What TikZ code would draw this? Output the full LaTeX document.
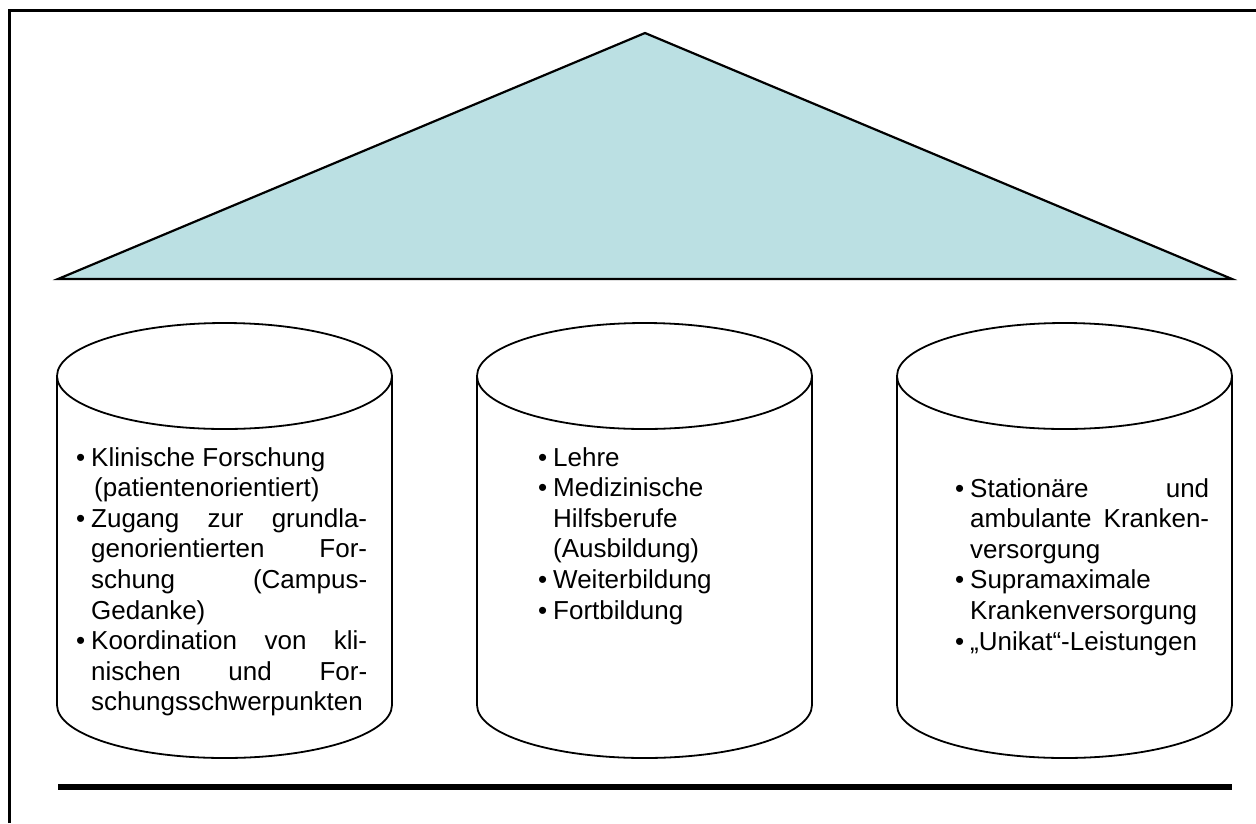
\documentclass[tikz,border=0pt]{standalone}
\usepackage{fontspec}
\setmainfont{Liberation Sans}
\definecolor{roof}{RGB}{187,224,227}
\tikzset{
  frameline/.style={line width=3pt},
  roofshape/.style={fill=roof, draw=black, line width=2.2pt},
  pillar/.style={draw=black, line width=1.8pt},
  groundline/.style={line width=6.5pt},
  pillartext/.style={anchor=base west, inner sep=0pt},
}
% justified text block whose first baseline is the node's base
\newcommand\pillarbody[2]{\vtop{\hsize=#1\relax
  \fontsize{26pt}{30.6pt}\selectfont
  \parindent=0pt \parskip=0pt \tolerance=10000 \hbadness=10000
  \hyphenpenalty=10000 \exhyphenpenalty=10000 #2}}
% one bulleted item, bullet hanging in the left margin
\newcommand\bitem{\par\leavevmode\llap{•\hspace{6pt}}}
\begin{document}
\begin{tikzpicture}[x=1pt,y=-1pt]
  \useasboundingbox (0,0) rectangle (1256,823);
  % frame
  \draw[frameline] (9,823) -- (9,10) -- (1256,10);
  % roof
  \coordinate (roofL) at (58,279);
  \coordinate (roofT) at (645,33);
  \coordinate (roofR) at (1232,279);
  \draw[roofshape] (roofL) -- (roofT) -- (roofR) -- cycle;
  % three pillars (cylinders)
  \foreach \x in {57,477,897} {
    \draw[pillar] (\x,376) -- (\x,705)
      arc[start angle=180, end angle=0, x radius=167.5, y radius=53]
      -- (\x+335,376);
    \draw[pillar] (\x+167.5,376) ellipse [x radius=167.5, y radius=53];
  }
  % pillar texts
  \node[pillartext] (research) at (91,466) {\pillarbody{276pt}{%
    \bitem Klinische Forschung\\\hspace*{3pt}(patientenorientiert)
    \bitem Zugang zur grundla-\linebreak genorientierten For-\linebreak schung (Campus-\linebreak Gedanke)
    \bitem Koordination von kli-\linebreak nischen und For-\linebreak schungsschwerpunkten}};
  \node[pillartext] (teaching) at (553,466) {\pillarbody{237pt}{%
    \bitem Lehre
    \bitem Medizinische\\Hilfsberufe\\(Ausbildung)
    \bitem Weiterbildung
    \bitem Fortbildung}};
  \node[pillartext] (care) at (970,497) {\pillarbody{239pt}{%
    \bitem Stationäre und\linebreak ambulante Kranken-\linebreak versorgung
    \bitem Supramaximale\\Krankenversorgung
    \bitem „Unikat“-Leistungen}};
  % ground
  \coordinate (groundL) at (58,787);
  \coordinate (groundR) at (1232,787);
  \draw[groundline] (groundL) -- (groundR);
\end{tikzpicture}
\end{document}
